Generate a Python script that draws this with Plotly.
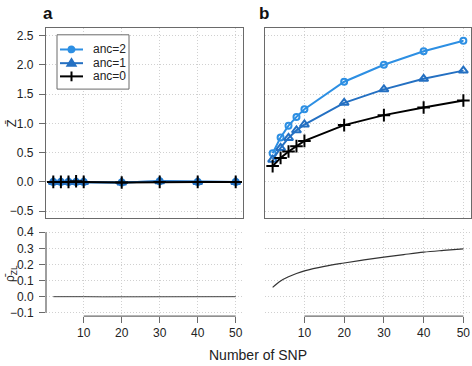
import plotly.graph_objects as go

W, H = 472, 366

snp = [2, 4, 6, 8, 10, 20, 30, 40, 50]

# panel a (Z-bar, all near zero)
a_anc2 = [0.00, 0.00, 0.00, 0.00, 0.00, -0.01, 0.01, 0.00, 0.00]
a_anc1 = [0.00, 0.00, 0.00, 0.00, 0.00, -0.01, 0.01, 0.00, 0.00]
a_anc0 = [0.00, 0.00, 0.00, 0.01, 0.00, -0.01, 0.00, 0.00, 0.00]

# panel b (Z-bar)
b_anc2 = [0.49, 0.76, 0.96, 1.11, 1.24, 1.71, 2.00, 2.23, 2.41]
b_anc1 = [0.38, 0.58, 0.75, 0.88, 0.98, 1.35, 1.58, 1.76, 1.90]
b_anc0 = [0.27, 0.41, 0.52, 0.61, 0.70, 0.97, 1.14, 1.27, 1.39]

# lower panels (rho-bar ZL)
rho_x = [2, 4, 6, 8, 10, 15, 20, 25, 30, 35, 40, 45, 50]
rho_a = [0.000, -0.001, -0.001, -0.001, 0.000, -0.001, -0.001, -0.001, 0.000, 0.000, 0.000, 0.000, 0.000]
rho_b = [0.058, 0.098, 0.124, 0.144, 0.160, 0.188, 0.209, 0.228, 0.245, 0.261, 0.276, 0.287, 0.297]

x_ticks = [10, 20, 30, 40, 50]
z_ticks = [-0.5, 0.0, 0.5, 1.0, 1.5, 2.0, 2.5]
rho_ticks = [-0.1, 0.0, 0.1, 0.2, 0.3, 0.4]

series_names = ["anc=2", "anc=1", "anc=0"]
series_colors = ["#2d8fe3", "#2470c2", "#000000"]
series_symbols = ["circle-open", "triangle-up-open", "cross-thin-open"]
series_sizes = [6, 8, 9]

fig = go.Figure()
for name, col, sym, sz, ya, yb in zip(series_names, series_colors, series_symbols, series_sizes,
                                      [a_anc2, a_anc1, a_anc0], [b_anc2, b_anc1, b_anc0]):
    for ys, xa, yax in [(ya, "x", "y"), (yb, "x2", "y2")]:
        fig.add_trace(go.Scatter(
            x=snp, y=ys, mode="lines+markers", name=name, showlegend=False,
            line=dict(color=col, width=2),
            marker=dict(symbol=sym, size=sz, color=col, line=dict(color=col, width=2)),
            xaxis=xa, yaxis=yax,
        ))

fig.add_trace(go.Scatter(x=rho_x, y=rho_a, mode="lines", line=dict(color="#444", width=1),
                         showlegend=False, xaxis="x3", yaxis="y3"))
fig.add_trace(go.Scatter(x=rho_x, y=rho_b, mode="lines", line=dict(color="#333", width=1.2, shape="spline"),
                         showlegend=False, xaxis="x4", yaxis="y4"))

def px_x(a, b):
    return [a / W, b / W]

def px_y(top, bot):
    return [1 - bot / H, 1 - top / H]

def PX(x):
    return x / W

def PY(y):
    return 1 - y / H

axcol = "#6a6a6a"
grid = dict(showgrid=True, gridcolor="#d0d0d0", griddash="1px,2px", gridwidth=1, zeroline=False)
font = dict(family="Liberation Sans, Arial, sans-serif", size=12, color="#222")
xr = [0.08, 51.92]

common_top_x = dict(range=xr, tickvals=x_ticks, showticklabels=False, ticks="",
                    showline=True, mirror=True, linecolor=axcol, linewidth=1.3, **grid)
common_top_y = dict(range=[-0.62, 2.62], tickvals=z_ticks, tickformat=".1f",
                    showline=True, mirror=True, linecolor=axcol, linewidth=1.3, **grid)

fig.update_layout(
    width=W, height=H, margin=dict(l=0, r=0, t=0, b=0),
    paper_bgcolor="white", plot_bgcolor="white", font=font, showlegend=False,
    xaxis=dict(domain=px_x(46, 243), anchor="y", **common_top_x),
    yaxis=dict(domain=px_y(25, 219), anchor="x", ticks="outside", ticklen=6, tickcolor=axcol,
               ticklabelstandoff=3, **common_top_y),
    xaxis2=dict(domain=px_x(265, 471), anchor="y2", **common_top_x),
    yaxis2=dict(domain=px_y(25, 219), anchor="x2", showticklabels=False, ticks="", **common_top_y),
    xaxis3=dict(domain=px_x(46, 243), anchor="y3", range=xr, tickvals=x_ticks, ticks="outside",
                ticklen=6, tickcolor=axcol, showline=False, **grid),
    yaxis3=dict(domain=px_y(230, 319), anchor="x3", range=[-0.12, 0.42], tickvals=rho_ticks,
                tickformat=".1f", ticks="outside", ticklen=6, tickcolor=axcol, showline=False,
                ticklabelstandoff=3, **grid),
    xaxis4=dict(domain=px_x(265, 471), anchor="y4", range=xr, tickvals=x_ticks, ticks="outside",
                ticklen=6, tickcolor=axcol, showline=False, **grid),
    yaxis4=dict(domain=px_y(230, 319), anchor="x4", range=[-0.12, 0.42], tickvals=rho_ticks,
                showticklabels=False, ticks="", showline=False, **grid),
)

# partial axis lines for lower panels (R-style)
shapes = [
    dict(type="line", xref="x3 domain", yref="y3", x0=0, x1=0, y0=min(rho_ticks), y1=max(rho_ticks),
         line=dict(color=axcol, width=1.3)),
    dict(type="line", xref="x3", yref="y3 domain", x0=min(x_ticks), x1=max(x_ticks), y0=0, y1=0,
         line=dict(color=axcol, width=1.3)),
    dict(type="line", xref="x4", yref="y4 domain", x0=min(x_ticks), x1=max(x_ticks), y0=0, y1=0,
         line=dict(color=axcol, width=1.3)),
]

# R-style legend box (decoration in paper pixels)
ann = []
shapes.append(dict(type="rect", xref="paper", yref="paper", x0=PX(57), x1=PX(129), y0=PY(87), y1=PY(31.5),
                   line=dict(color=axcol, width=1), fillcolor="white", layer="above"))
leg_y = [46.5, 60.5, 74]
for i, (name, col) in enumerate(zip(series_names, series_colors)):
    yy = leg_y[i]
    shapes.append(dict(type="line", xref="paper", yref="paper", x0=PX(60), x1=PX(83), y0=PY(yy), y1=PY(yy),
                       line=dict(color=col, width=2)))
    cx = 71.5
    if i == 0:
        shapes.append(dict(type="circle", xref="paper", yref="paper", x0=PX(cx - 3.2), x1=PX(cx + 3.2),
                           y0=PY(yy + 3.2), y1=PY(yy - 3.2), line=dict(color=col, width=1.5), fillcolor=col))
    elif i == 1:
        path = "M {},{} L {},{} L {},{} Z".format(PX(cx - 4.5), PY(yy + 3), PX(cx + 4.5), PY(yy + 3),
                                                  PX(cx), PY(yy - 4.5))
        shapes.append(dict(type="path", xref="paper", yref="paper", path=path,
                           line=dict(color=col, width=1.5), fillcolor=col))
    else:
        shapes.append(dict(type="line", xref="paper", yref="paper", x0=PX(cx), x1=PX(cx),
                           y0=PY(yy - 5), y1=PY(yy + 5), line=dict(color=col, width=2)))
    ann.append(dict(text=name, x=PX(91), y=PY(yy), xref="paper", yref="paper", showarrow=False,
                    xanchor="left", yanchor="middle", font=dict(size=12, color="#222")))

fig.update_layout(shapes=shapes)

ann += [
    dict(text="<b>a</b>", x=48 / W, y=1 - 10 / H, xref="paper", yref="paper", showarrow=False,
         font=dict(size=17, color="#111"), xanchor="center", yanchor="middle"),
    dict(text="<b>b</b>", x=264 / W, y=1 - 10 / H, xref="paper", yref="paper", showarrow=False,
         font=dict(size=17, color="#111"), xanchor="center", yanchor="middle"),
    dict(text="Z̄", x=11 / W, y=1 - 122 / H, xref="paper", yref="paper", showarrow=False,
         textangle=-90, font=dict(size=13, color="#222"), xanchor="center", yanchor="middle"),
    dict(text="ρ̄<sub>ZL</sub>", x=11 / W, y=1 - 276 / H, xref="paper", yref="paper", showarrow=False,
         textangle=-90, font=dict(size=12, color="#222"), xanchor="center", yanchor="middle"),
    dict(text="Number of SNP", x=258 / W, y=1 - 359 / H, xref="paper", yref="paper", showarrow=False,
         font=dict(size=14, color="#222"), xanchor="center", yanchor="middle"),
]
fig.update_layout(annotations=ann)

fig.write_html("out.html", config={"displayModeBar": False},
               post_script="document.body.style.margin='0px';document.body.style.overflow='hidden';")
